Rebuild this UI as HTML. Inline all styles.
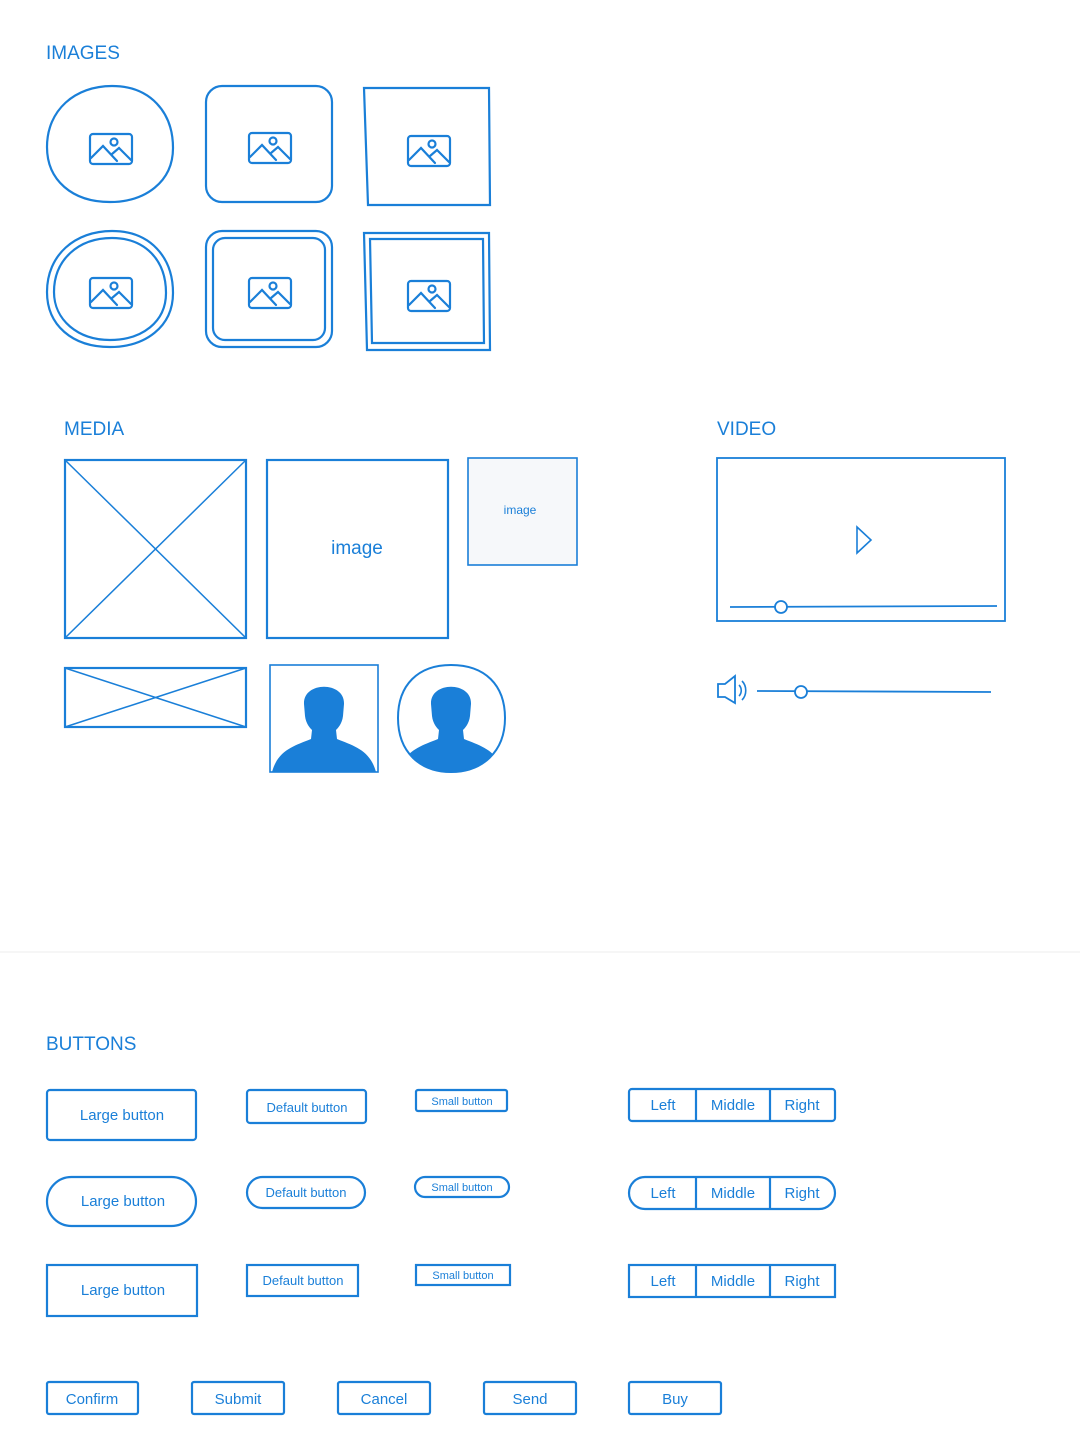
<!DOCTYPE html>
<html><head><meta charset="utf-8"><style>
html,body{margin:0;padding:0;background:#fff;}
svg{display:block}
text{font-family:"Liberation Sans",sans-serif;fill:#1a7fd8}
</style></head><body>
<svg width="1080" height="1440" viewBox="0 0 1080 1440" xmlns="http://www.w3.org/2000/svg">
<defs>
<g id="ic" fill="none" stroke="#1a7fd8" stroke-width="2.2" stroke-linecap="round">
<rect x="-21" y="-15" width="42" height="30" rx="3"/>
<circle cx="3" cy="-7" r="3.5"/>
<polyline points="-20,9 -8,-3 6,12"/>
<polyline points="1,5 8,-1 20,11"/>
</g>
<path id="person" fill="#1a7fd8" d="M-20,20 C-21,-3 21,-3 20,20 L19,32 C18,40 14,44 12,46 L13,55 C30,62 46,66 52,88 L-52,88 C-46,66 -30,62 -13,55 L-12,46 C-14,44 -18,40 -19,32 Z"/>
<clipPath id="cc"><path d="M451,665 C485,665 505,685 505,718 C505,752 482,772 451,772 C420,772 398,752 398,718 C398,685 418,665 451,665 Z"/></clipPath>
</defs>

<g font-size="19">
<text x="46" y="59">IMAGES</text>
<text x="64" y="435">MEDIA</text>
<text x="717" y="435">VIDEO</text>
<text x="46" y="1050">BUTTONS</text>
</g>

<g fill="none" stroke="#1a7fd8" stroke-width="2.2">
<path d="M112,86 C150,86 173,112 173,148 C173,182 145,202 110,202 C72,202 47,180 47,147 C47,110 75,86 112,86 Z"/>
<rect x="206" y="86" width="126" height="116" rx="16"/>
<path d="M364,88 L489,88 L490,205 L368,205 Z"/>
<path d="M112,231 C150,231 173,257 173,293 C173,327 145,347 110,347 C72,347 47,325 47,292 C47,255 75,231 112,231 Z"/>
<path d="M112,238 C145,238 166,260 166,293 C166,322 142,340 110,340 C78,340 54,320 54,292 C54,260 78,238 112,238 Z"/>
<rect x="206" y="231" width="126" height="116" rx="16"/>
<rect x="213" y="238" width="112" height="102" rx="12"/>
<path d="M364,233 L489,233 L490,350 L367,350 Z"/>
<path d="M370,239 L483,239 L484,343 L372,343 Z"/>

<rect x="65" y="460" width="181" height="178"/>
<line x1="65" y1="460" x2="246" y2="638" stroke-width="1.5"/>
<line x1="246" y1="460" x2="65" y2="638" stroke-width="1.5"/>
<rect x="267" y="460" width="181" height="178"/>
<rect x="468" y="458" width="109" height="107" fill="#f6f8fa" stroke-width="1.6"/>
<rect x="65" y="668" width="181" height="59"/>
<line x1="65" y1="668" x2="246" y2="727" stroke-width="1.5"/>
<line x1="246" y1="668" x2="65" y2="727" stroke-width="1.5"/>
<rect x="270" y="665" width="108" height="107" stroke-width="1.6"/>

<rect x="717" y="458" width="288" height="163" stroke-width="1.8"/>
<path d="M857,527 L871,540 L857,553 Z" stroke-width="1.6"/>
<line x1="730" y1="607" x2="997" y2="606" stroke-width="1.8"/>
<circle cx="781" cy="607" r="6" fill="#fff" stroke-width="1.8"/>
<path d="M718,684 L725,684 L735,676 L735,703 L725,697 L718,697 Z" stroke-width="1.8"/>
<path d="M739,685 C742,688 742,693 739,696 M742,681 C747,686 747,695 742,700" stroke-width="1.6"/>
<line x1="757" y1="691" x2="991" y2="692" stroke-width="1.8"/>
<circle cx="801" cy="692" r="6" fill="#fff" stroke-width="1.8"/>
</g>
<use href="#ic" x="111" y="149"/><use href="#ic" x="270" y="148"/><use href="#ic" x="429" y="151"/>
<use href="#ic" x="111" y="293"/><use href="#ic" x="270" y="293"/><use href="#ic" x="429" y="296"/>
<use href="#person" x="324" y="684"/>
<g clip-path="url(#cc)"><use href="#person" x="451" y="684"/></g>
<path d="M451,665 C485,665 505,685 505,718 C505,752 482,772 451,772 C420,772 398,752 398,718 C398,685 418,665 451,665 Z" fill="none" stroke="#1a7fd8" stroke-width="2"/>
<text x="357" y="554" font-size="19" text-anchor="middle">image</text>
<text x="520" y="514" font-size="12" text-anchor="middle">image</text>

<line x1="0" y1="952" x2="1080" y2="952" stroke="#ececec" stroke-width="1"/>

<g fill="none" stroke="#1a7fd8" stroke-width="2.2">
<rect x="47" y="1090" width="149" height="50" rx="3"/>
<rect x="247" y="1090" width="119" height="33" rx="3"/>
<rect x="416" y="1090" width="91" height="21" rx="2"/>
<rect x="629" y="1089" width="206" height="32" rx="3"/>
<line x1="696" y1="1089" x2="696" y2="1121"/><line x1="770" y1="1089" x2="770" y2="1121"/>

<rect x="47" y="1177" width="149" height="49" rx="24.5"/>
<rect x="247" y="1177" width="118" height="31" rx="15.5"/>
<rect x="415" y="1177" width="94" height="20" rx="10"/>
<rect x="629" y="1177" width="206" height="32" rx="16"/>
<line x1="696" y1="1177" x2="696" y2="1209"/><line x1="770" y1="1177" x2="770" y2="1209"/>

<rect x="47" y="1265" width="150" height="51"/>
<rect x="247" y="1265" width="111" height="31"/>
<rect x="416" y="1265" width="94" height="20"/>
<rect x="629" y="1265" width="206" height="32"/>
<line x1="696" y1="1265" x2="696" y2="1297"/><line x1="770" y1="1265" x2="770" y2="1297"/>

<rect x="47" y="1382" width="91" height="32" rx="2"/>
<rect x="192" y="1382" width="92" height="32" rx="2"/>
<rect x="338" y="1382" width="92" height="32" rx="2"/>
<rect x="484" y="1382" width="92" height="32" rx="2"/>
<rect x="629" y="1382" width="92" height="32" rx="2"/>
</g>

<g text-anchor="middle">
<g font-size="15">
<text x="122" y="1120">Large button</text>
<text x="123" y="1206">Large button</text>
<text x="123" y="1295">Large button</text>
</g>
<g font-size="13">
<text x="307" y="1112">Default button</text>
<text x="306" y="1197">Default button</text>
<text x="303" y="1285">Default button</text>
</g>
<g font-size="11">
<text x="462" y="1105">Small button</text>
<text x="462" y="1191">Small button</text>
<text x="463" y="1279">Small button</text>
</g>
<g font-size="15">
<text x="663" y="1110">Left</text><text x="733" y="1110">Middle</text><text x="802" y="1110">Right</text>
<text x="663" y="1198">Left</text><text x="733" y="1198">Middle</text><text x="802" y="1198">Right</text>
<text x="663" y="1286">Left</text><text x="733" y="1286">Middle</text><text x="802" y="1286">Right</text>
<text x="92" y="1404">Confirm</text>
<text x="238" y="1404">Submit</text>
<text x="384" y="1404">Cancel</text>
<text x="530" y="1404">Send</text>
<text x="675" y="1404">Buy</text>
</g>
</g>
</svg>
</body></html>
